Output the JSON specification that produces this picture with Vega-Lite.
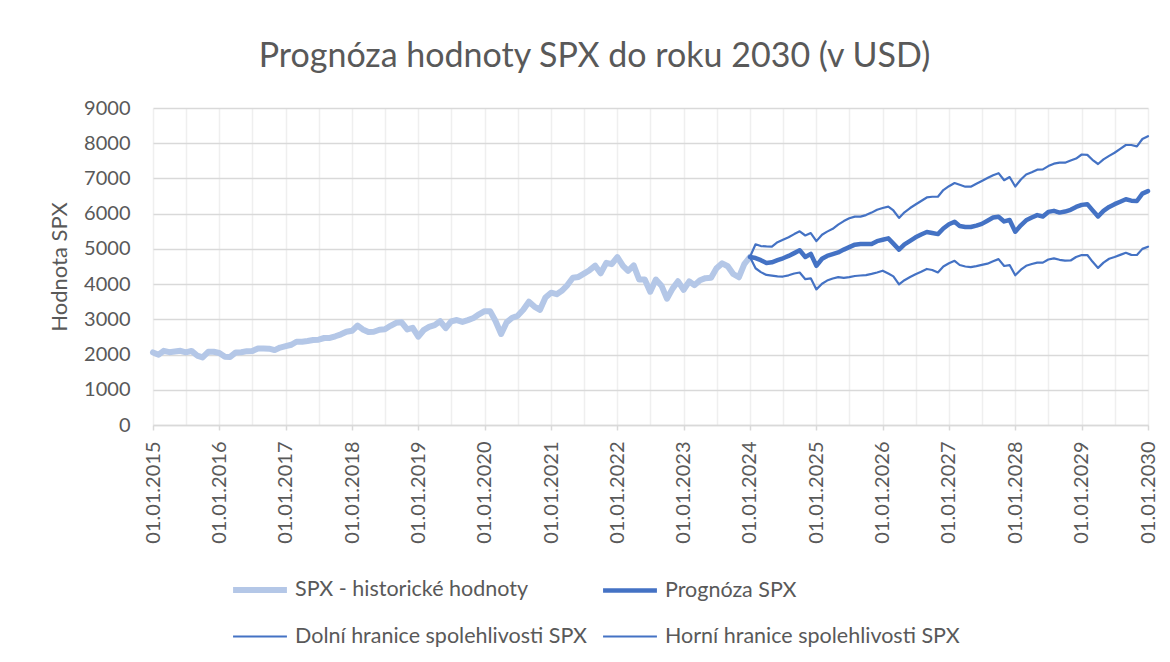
{
  "$schema": "https://vega.github.io/schema/vega-lite/v6.json",
  "autosize": "none",
  "width": 995,
  "height": 317,
  "padding": {"left": 153, "top": 108, "right": 22, "bottom": 237},
  "background": "white",
  "title": {
    "text": "Prognóza hodnoty SPX do roku 2030 (v USD)",
    "font": "Lato",
    "fontSize": 34,
    "fontWeight": "normal",
    "color": "#595959",
    "anchor": "middle",
    "dx": -56,
    "offset": 24
  },
  "data": {"values": [
    {"d":"2015/01/01","h":2059},{"d":"2015/02/01","h":1995},{"d":"2015/03/01","h":2105},{"d":"2015/04/01","h":2068},{"d":"2015/05/01","h":2086},{"d":"2015/06/01","h":2107},{"d":"2015/07/01","h":2063},{"d":"2015/08/01","h":2104},{"d":"2015/09/01","h":1972},{"d":"2015/10/01","h":1920},{"d":"2015/11/01","h":2079},{"d":"2015/12/01","h":2080},
    {"d":"2016/01/01","h":2044},{"d":"2016/02/01","h":1940},{"d":"2016/03/01","h":1932},{"d":"2016/04/01","h":2060},{"d":"2016/05/01","h":2065},{"d":"2016/06/01","h":2097},{"d":"2016/07/01","h":2099},{"d":"2016/08/01","h":2174},{"d":"2016/09/01","h":2171},{"d":"2016/10/01","h":2168},{"d":"2016/11/01","h":2126},{"d":"2016/12/01","h":2199},
    {"d":"2017/01/01","h":2239},{"d":"2017/02/01","h":2279},{"d":"2017/03/01","h":2364},{"d":"2017/04/01","h":2363},{"d":"2017/05/01","h":2384},{"d":"2017/06/01","h":2412},{"d":"2017/07/01","h":2423},{"d":"2017/08/01","h":2470},{"d":"2017/09/01","h":2472},{"d":"2017/10/01","h":2519},{"d":"2017/11/01","h":2575},{"d":"2017/12/01","h":2648},
    {"d":"2018/01/01","h":2674},{"d":"2018/02/01","h":2824},{"d":"2018/03/01","h":2714},{"d":"2018/04/01","h":2641},{"d":"2018/05/01","h":2648},{"d":"2018/06/01","h":2705},{"d":"2018/07/01","h":2718},{"d":"2018/08/01","h":2816},{"d":"2018/09/01","h":2902},{"d":"2018/10/01","h":2914},{"d":"2018/11/01","h":2712},{"d":"2018/12/01","h":2760},
    {"d":"2019/01/01","h":2507},{"d":"2019/02/01","h":2704},{"d":"2019/03/01","h":2784},{"d":"2019/04/01","h":2834},{"d":"2019/05/01","h":2946},{"d":"2019/06/01","h":2752},{"d":"2019/07/01","h":2942},{"d":"2019/08/01","h":2980},{"d":"2019/09/01","h":2926},{"d":"2019/10/01","h":2977},{"d":"2019/11/01","h":3038},{"d":"2019/12/01","h":3141},
    {"d":"2020/01/01","h":3231},{"d":"2020/02/01","h":3226},{"d":"2020/03/01","h":2954},{"d":"2020/04/01","h":2585},{"d":"2020/05/01","h":2912},{"d":"2020/06/01","h":3044},{"d":"2020/07/01","h":3100},{"d":"2020/08/01","h":3271},{"d":"2020/09/01","h":3500},{"d":"2020/10/01","h":3363},{"d":"2020/11/01","h":3270},{"d":"2020/12/01","h":3622},
    {"d":"2021/01/01","h":3756},{"d":"2021/02/01","h":3714},{"d":"2021/03/01","h":3811},{"d":"2021/04/01","h":3973},{"d":"2021/05/01","h":4181},{"d":"2021/06/01","h":4204},{"d":"2021/07/01","h":4298},{"d":"2021/08/01","h":4395},{"d":"2021/09/01","h":4523},{"d":"2021/10/01","h":4308},{"d":"2021/11/01","h":4605},{"d":"2021/12/01","h":4567},
    {"d":"2022/01/01","h":4766},{"d":"2022/02/01","h":4516},{"d":"2022/03/01","h":4374},{"d":"2022/04/01","h":4530},{"d":"2022/05/01","h":4132},{"d":"2022/06/01","h":4132},{"d":"2022/07/01","h":3785},{"d":"2022/08/01","h":4130},{"d":"2022/09/01","h":3955},{"d":"2022/10/01","h":3586},{"d":"2022/11/01","h":3872},{"d":"2022/12/01","h":4080},
    {"d":"2023/01/01","h":3840},{"d":"2023/02/01","h":4077},{"d":"2023/03/01","h":3970},{"d":"2023/04/01","h":4109},{"d":"2023/05/01","h":4169},{"d":"2023/06/01","h":4180},{"d":"2023/07/01","h":4450},{"d":"2023/08/01","h":4589},{"d":"2023/09/01","h":4508},{"d":"2023/10/01","h":4288},{"d":"2023/11/01","h":4194},{"d":"2023/12/01","h":4568},
    {"d":"2024/01/01","h":4770,"f":4770,"l":4770,"u":4770},
    {"d":"2024/02/01","f":4740,"l":4450,"u":5130},{"d":"2024/03/01","f":4680,"l":4340,"u":5080},{"d":"2024/04/01","f":4600,"l":4260,"u":5070},{"d":"2024/05/01","f":4620,"l":4240,"u":5065},{"d":"2024/06/01","f":4680,"l":4220,"u":5190},{"d":"2024/07/01","f":4733,"l":4215,"u":5260},{"d":"2024/08/01","f":4800,"l":4250,"u":5330},{"d":"2024/09/01","f":4880,"l":4300,"u":5420},{"d":"2024/10/01","f":4960,"l":4330,"u":5500},{"d":"2024/11/01","f":4770,"l":4140,"u":5380},{"d":"2024/12/01","f":4860,"l":4165,"u":5450},
    {"d":"2025/01/01","f":4520,"l":3850,"u":5220},{"d":"2025/02/01","f":4720,"l":4010,"u":5400},{"d":"2025/03/01","f":4800,"l":4100,"u":5490},{"d":"2025/04/01","f":4850,"l":4160,"u":5570},{"d":"2025/05/01","f":4900,"l":4200,"u":5690},{"d":"2025/06/01","f":4980,"l":4175,"u":5790},{"d":"2025/07/01","f":5050,"l":4200,"u":5870},{"d":"2025/08/01","f":5120,"l":4231,"u":5915},{"d":"2025/09/01","f":5140,"l":4245,"u":5915},{"d":"2025/10/01","f":5140,"l":4255,"u":5960},{"d":"2025/11/01","f":5140,"l":4290,"u":6030},{"d":"2025/12/01","f":5220,"l":4330,"u":6110},
    {"d":"2026/01/01","f":5260,"l":4380,"u":6160},{"d":"2026/02/01","f":5300,"l":4300,"u":6200},{"d":"2026/03/01","f":5150,"l":4220,"u":6090},{"d":"2026/04/01","f":4980,"l":3990,"u":5880},{"d":"2026/05/01","f":5130,"l":4110,"u":6040},{"d":"2026/06/01","f":5230,"l":4200,"u":6160},{"d":"2026/07/01","f":5330,"l":4280,"u":6260},{"d":"2026/08/01","f":5410,"l":4350,"u":6360},{"d":"2026/09/01","f":5480,"l":4430,"u":6460},{"d":"2026/10/01","f":5450,"l":4400,"u":6480},{"d":"2026/11/01","f":5420,"l":4330,"u":6480},{"d":"2026/12/01","f":5580,"l":4500,"u":6670},
    {"d":"2027/01/01","f":5700,"l":4590,"u":6780},{"d":"2027/02/01","f":5770,"l":4660,"u":6870},{"d":"2027/03/01","f":5650,"l":4543,"u":6820},{"d":"2027/04/01","f":5620,"l":4500,"u":6766},{"d":"2027/05/01","f":5620,"l":4480,"u":6766},{"d":"2027/06/01","f":5660,"l":4510,"u":6850},{"d":"2027/07/01","f":5710,"l":4545,"u":6930},{"d":"2027/08/01","f":5800,"l":4580,"u":7010},{"d":"2027/09/01","f":5890,"l":4650,"u":7090},{"d":"2027/10/01","f":5915,"l":4710,"u":7150},{"d":"2027/11/01","f":5780,"l":4515,"u":6950},{"d":"2027/12/01","f":5820,"l":4540,"u":7040},
    {"d":"2028/01/01","f":5489,"l":4250,"u":6770},{"d":"2028/02/01","f":5670,"l":4410,"u":6970},{"d":"2028/03/01","f":5810,"l":4520,"u":7110},{"d":"2028/04/01","f":5890,"l":4570,"u":7175},{"d":"2028/05/01","f":5960,"l":4610,"u":7250},{"d":"2028/06/01","f":5920,"l":4609,"u":7258},{"d":"2028/07/01","f":6050,"l":4700,"u":7350},{"d":"2028/08/01","f":6080,"l":4732,"u":7420},{"d":"2028/09/01","f":6030,"l":4690,"u":7447},{"d":"2028/10/01","f":6060,"l":4665,"u":7447},{"d":"2028/11/01","f":6110,"l":4670,"u":7510},{"d":"2028/12/01","f":6190,"l":4770,"u":7565},
    {"d":"2029/01/01","f":6250,"l":4825,"u":7680},{"d":"2029/02/01","f":6270,"l":4827,"u":7670},{"d":"2029/03/01","f":6100,"l":4640,"u":7530},{"d":"2029/04/01","f":5920,"l":4460,"u":7410},{"d":"2029/05/01","f":6080,"l":4610,"u":7540},{"d":"2029/06/01","f":6190,"l":4720,"u":7640},{"d":"2029/07/01","f":6270,"l":4770,"u":7730},{"d":"2029/08/01","f":6340,"l":4830,"u":7840},{"d":"2029/09/01","f":6410,"l":4890,"u":7950},{"d":"2029/10/01","f":6370,"l":4830,"u":7950},{"d":"2029/11/01","f":6360,"l":4827,"u":7910},{"d":"2029/12/01","f":6570,"l":5000,"u":8120},
    {"d":"2030/01/01","f":6640,"l":5063,"u":8200}
  ]},
  "transform": [
    {"fold": ["h", "f", "l", "u"], "as": ["s", "v"]},
    {"filter": "isValid(datum.v)"}
  ],
  "mark": {"type": "line", "strokeCap": "round", "strokeJoin": "round"},
  "encoding": {
    "x": {
      "field": "d", "type": "temporal",
      "scale": {"domain": [{"year": 2015, "month": 1, "date": 1}, {"year": 2030, "month": 1, "date": 1}], "nice": false},
      "axis": {
        "title": null,
        "tickCount": {"interval": "month", "step": 6},
        "labelExpr": "month(datum.value) == 0 ? timeFormat(datum.value, '%d.%m.%Y') : ''",
        "labelAngle": -90,
        "labelOverlap": false,
        "labelFlush": false,
        "labelBound": false,
        "labelPadding": 11,
        "labelFont": "Lato",
        "labelFontSize": 20,
        "labelColor": "#595959",
        "grid": true,
        "gridColor": "#EFEFEF",
        "gridWidth": 1.5,
        "domain": true,
        "domainColor": "#D9D9D9",
        "domainWidth": 1.5,
        "ticks": true,
        "tickSize": 5,
        "tickWidth": 1.5,
        "tickColor": {"condition": {"test": "month(datum.value) == 0", "value": "#D9D9D9"}, "value": "transparent"}
      }
    },
    "y": {
      "field": "v", "type": "quantitative",
      "scale": {"domain": [0, 9000], "nice": false},
      "axis": {
        "title": "Hodnota SPX",
        "titleFont": "Lato",
        "titleFontSize": 22,
        "titleFontWeight": "normal",
        "titleColor": "#595959",
        "titlePadding": 12,
        "values": [0, 1000, 2000, 3000, 4000, 5000, 6000, 7000, 8000, 9000],
        "format": "d",
        "labelFont": "Lato",
        "labelFontSize": 20,
        "labelColor": "#595959",
        "labelPadding": 23,
        "domain": false,
        "ticks": false,
        "grid": true,
        "gridColor": "#D9D9D9",
        "gridWidth": 1.5
      }
    },
    "color": {
      "field": "s", "type": "ordinal",
      "scale": {"domain": ["h", "f", "l", "u"], "range": ["#B4C7E7", "#4472C4", "#4472C4", "#4472C4"]},
      "legend": {"labelExpr": "datum.label == 'h' ? 'SPX - historické hodnoty' : datum.label == 'f' ? 'Prognóza SPX' : datum.label == 'l' ? 'Dolní hranice spolehlivosti SPX' : 'Horní hranice spolehlivosti SPX'"}
    },
    "strokeWidth": {
      "field": "s", "type": "ordinal",
      "scale": {"type": "ordinal", "domain": ["h", "f", "l", "u"], "range": [6, 4.5, 2.2, 2.2]},
      "legend": {"labelExpr": "datum.label == 'h' ? 'SPX - historické hodnoty' : datum.label == 'f' ? 'Prognóza SPX' : datum.label == 'l' ? 'Dolní hranice spolehlivosti SPX' : 'Horní hranice spolehlivosti SPX'"}
    },
    "order": {"field": "d", "type": "temporal"}
  },
  "config": {
    "view": {"stroke": null},
    "legend": {
      "orient": "none",
      "legendX": 77,
      "legendY": 452,
      "direction": "horizontal",
      "columns": 2,
      "title": null,
      "symbolType": "stroke",
      "symbolSize": 2900,
      "labelFont": "Lato",
      "labelFontSize": 21.5,
      "labelColor": "#595959",
      "labelOffset": 5,
      "columnPadding": 6,
      "rowPadding": 6,
      "labelLimit": 400
    }
  }
}
